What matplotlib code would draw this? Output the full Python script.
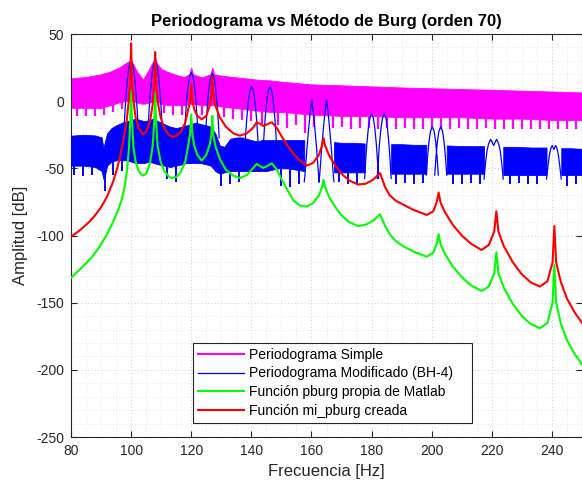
import numpy as np
import matplotlib
matplotlib.use('Agg')
import matplotlib.pyplot as plt
from matplotlib.lines import Line2D
from matplotlib.ticker import MultipleLocator

plt.rcParams['font.family'] = ['Liberation Sans', 'DejaVu Sans']
plt.rcParams['axes.unicode_minus'] = False

# ---------------- data ----------------
# Periodograma simple: envelope of the dense oscillation (upper / lower)
simple_f = [80, 85, 90, 93, 96, 98, 99.4, 100, 100.6, 102, 104, 106, 107.4, 108, 108.6,
            110, 112, 115, 117.5, 119.4, 120, 120.6, 123.5, 126.4, 127, 127.6, 130, 134,
            138, 142, 146, 150, 160, 170, 180, 190, 200, 210, 220, 230, 240, 250]
simple_hi = [17, 18, 20, 22, 25, 28, 30, 31, 28, 22, 16, 24, 30, 32, 28,
             24, 22, 19.5, 18, 20, 25, 20, 17.7, 20, 25, 20, 19, 18,
             17, 16, 15.5, 14.5, 12.5, 11.8, 11, 10.2, 9.6, 9, 8.5, 7.8, 7.2, 6.5]
simple_lo = [-5, -5, -5, -3, -1, 0, 0, 0, 0, -1, -2, -1, 0, 0, 0,
             -2, -3, -3, -3, -2, -2, -2, -3, -3, -3, -3, -4, -5,
             -6, -7, -8, -8, -10, -11, -11, -12, -12, -12, -13, -13, -14, -14]
# downward teeth along the lower edge of the simple periodogram
simple_notch_f = [82, 85, 88, 91, 94, 97, 111, 114, 117, 123.5, 131, 134, 137, 140, 143.5,
                  149, 152, 155, 158, 161, 167, 170, 173, 176, 179, 182, 185, 188, 191, 194,
                  197, 200, 203, 206, 209, 212, 215, 218, 221, 224, 227, 230, 233, 236, 239,
                  242, 245, 248]
simple_notch_db = [-11, -11, -11, -10, -8, -6, -9, -10, -10, -10, -12, -13, -14, -15, -17,
                   -18, -20, -18, -24, -19, -20, -19, -21, -20, -20, -21, -20, -21, -20, -21,
                   -21, -20, -21, -21, -20, -21, -21, -20, -21, -21, -21, -21, -21, -21, -21,
                   -21, -21, -21]

# Periodograma modificado (BH-4): side-lobe band (NaN = gap) and main-lobe arches
mod_band_f = [80, 84, 88, 90.2, 90.8, 91.3, 92, 93.5, 95, 97, 98.5, 100, 101.5, 103, 104.5,
              106, 107.5, 109, 111, 113, 115, 117, 118.5, 120, 121.5, 123, 125, 126.5, 128,
              129.5, 131, 133, 135, 137, 138.5, 140, 142, 143.5, 145, 147, 149, 152, 155, 157.6,
              np.nan, 167.5, 170, 174, 177.7,
              np.nan, 186.5, 190, 194, 198.2,
              np.nan, 205.0, 210, 214, 217.4,
              np.nan, 223.8, 228, 233, 238.2,
              np.nan, 243.1, 246, 250]
mod_band_hi = [-25.7, -25, -25.5, -27, -35, -30, -24, -20, -18, -16, -15, -14, -13, -14, -15,
               -14, -13, -15, -17, -19, -20, -19, -18, -17, -16, -17, -18, -19, -24,
               -33, -34, -28, -27, -27, -28, -29, -30, -29, -29, -29, -29, -29, -29, -29,
               np.nan, -30.5, -31, -31, -31.5,
               np.nan, -32, -32, -32.5, -32.5,
               np.nan, -33, -33.4, -33.5, -33.5,
               np.nan, -34, -34, -34.5, -34.5,
               np.nan, -35, -35, -35.5]
mod_band_lo = [-48, -48, -49, -52, -58, -55, -48, -45, -44, -44, -44, -45, -46, -46, -46,
               -45, -46, -47, -48, -49, -48, -47, -46, -46, -46, -46, -47, -48, -52,
               -54, -53, -52, -52, -52, -52, -52, -52, -52, -52, -51, -50, -50, -51, -52,
               np.nan, -53, -53, -53, -53,
               np.nan, -54, -54, -54, -54,
               np.nan, -54, -54, -54, -54,
               np.nan, -55, -55, -55, -55,
               np.nan, -55, -55, -55]
mod_notch_f = [81, 84, 87, 91.2, 94, 97, 112, 115, 130, 133, 136, 150, 153, 156, 169, 172,
               175, 188, 191, 194, 197, 207, 210, 213, 216, 226, 229, 232, 235, 245, 248]
mod_notch_db = [-55, -56, -55, -67, -55, -52, -58, -60, -63, -62, -60, -63, -64, -62, -60,
                -62, -61, -62, -61, -62, -61, -62, -62, -61, -62, -62, -61, -62, -62, -63, -62]
mod_arch_f = [97.7, 98.0, 98.4, 98.9, 99.4, 100.0, 100.6, 101.1, 101.6, 102.0, 102.3, np.nan,
              105.7, 106.0, 106.4, 106.9, 107.4, 108.0, 108.6, 109.1, 109.6, 110.0, 110.3, np.nan,
              117.7, 118.0, 118.4, 118.9, 119.4, 120.0, 120.6, 121.1, 121.6, 122.0, 122.3, np.nan,
              124.7, 125.0, 125.4, 125.9, 126.4, 127.0, 127.6, 128.1, 128.6, 129.0, 129.3, np.nan,
              137.8, 138.1, 138.5, 139.0, 139.5, 140.1, 140.7, 141.2, 141.7, 142.1, 142.4, np.nan,
              143.9, 144.2, 144.6, 145.1, 145.6, 146.2, 146.8, 147.3, 147.8, 148.2, 148.5, np.nan,
              157.6, 157.8, 158.1, 158.5, 159.0, 159.5, 160.1, 160.7, 161.2, 161.7, 162.1, 162.4, 162.6, np.nan,
              162.5, 162.7, 163.0, 163.4, 163.9, 164.4, 165.0, 165.6, 166.1, 166.6, 167.0, 167.3, 167.5, np.nan,
              177.7, 178.0, 178.4, 178.9, 179.4, 180.0, 180.6, 181.1, 181.6, 182.0, 182.3, np.nan,
              181.9, 182.2, 182.6, 183.1, 183.6, 184.2, 184.8, 185.3, 185.8, 186.2, 186.5, np.nan,
              198.2, 198.6, 199.1, 199.6, 200.2, 200.8, 201.3, 201.8, 202.2, np.nan,
              201.0, 201.4, 201.9, 202.4, 203.0, 203.6, 204.1, 204.6, 205.0, np.nan,
              217.4, 217.9, 218.4, 218.9, 219.6, 220.1, 220.6, 221.1, 221.6, 222.3, 222.8, 223.3, 223.8, np.nan,
              238.2, 238.7, 239.2, 239.7, 240.1, 240.65, 241.2, 241.6, 242.1, 242.6, 243.1]
mod_arch_db = [-18, -6, 7, 19, 26.7, 30, 26.7, 19, 7, -6, -18, np.nan,
               -18, -6, 7, 19, 26.7, 30, 26.7, 19, 7, -6, -18, np.nan,
               -26.5, -14.5, -1.5, 10.5, 18.2, 21.5, 18.2, 10.5, -1.5, -14.5, -26.5, np.nan,
               -27.3, -15.3, -2.3, 9.7, 17.4, 20.7, 17.4, 9.7, -2.3, -15.3, -27.3, np.nan,
               -37.2, -25.2, -12.2, -0.2, 7.5, 10.8, 7.5, -0.2, -12.2, -25.2, -37.2, np.nan,
               -37.2, -25.2, -12.2, -0.2, 7.5, 10.8, 7.5, -0.2, -12.2, -25.2, -37.2, np.nan,
               -60, -56.1, -47, -35, -22, -10, 0.9, -10, -22, -35, -47, -56.1, -60, np.nan,
               -60, -56.1, -47, -35, -22, -10, 0.9, -10, -22, -35, -47, -56.1, -60, np.nan,
               -57.5, -45.5, -32.5, -20.5, -12.8, -9.5, -12.8, -20.5, -32.5, -45.5, -57.5, np.nan,
               -57.5, -45.5, -32.5, -20.5, -12.8, -9.5, -12.8, -20.5, -32.5, -45.5, -57.5, np.nan,
               -55, -42, -30, -22.3, -19, -22.3, -30, -42, -55, np.nan,
               -55, -42, -30, -22.3, -19, -22.3, -30, -42, -55, np.nan,
               -58, -46, -37, -31.9, -28.4, -30.5, -33, -30.5, -28.4, -31.9, -37, -46, -58, np.nan,
               -58, -48, -39.5, -34.5, -33, -36, -33, -34.5, -39.5, -48, -58]

# Función pburg propia de Matlab
pburg_f = [80, 84, 87, 89.6, 92, 94, 95.5, 96.8, 97.8, 98.6, 99.3, 99.7, 100, 100.3, 100.8,
           101.5, 102.5, 103.8, 105, 106.3, 107.2, 107.7, 108, 108.3, 108.8, 109.8, 111, 112.5,
           113.5, 115, 116.5, 118, 119, 119.6, 120, 120.4, 121, 122, 123.5, 125, 126.2, 126.7,
           127, 127.3, 128, 129.5, 131.5, 134, 136.2, 138.5, 140.5, 141.8, 143, 144, 145.5,
           146.8, 148.5, 150, 152, 154, 156, 158.4, 160.5, 162.5, 163.5, 164, 164.5, 166, 168,
           170, 172.5, 175.5, 178, 180.5, 182.8, 184.5, 186, 188, 190.5, 194, 198.3, 200.5,
           201.7, 202.3, 203, 204.5, 207, 210, 213, 216.6, 219, 220.8, 221.5, 222.2, 224, 227,
           230, 233, 236, 238.5, 240.2, 240.8, 241.4, 243, 245, 247.5, 250]
pburg_db = [-131.6, -123, -116, -108, -99, -90, -82, -74, -64, -52, -35, -15, 8, -15, -35,
            -45, -52, -55.4, -54, -46, -33, -15, 6, -15, -33, -45, -52, -56,
            -57.2, -56.5, -53, -45, -33, -25, -10, -25, -33, -40, -44.3, -40, -32, -25,
            -11, -25, -33, -43, -51, -55.5, -57.2, -55, -50, -46.8, -48.5, -49.7, -48,
            -46.3, -51, -58, -66, -74, -77.5, -78.5, -76, -70, -64, -58.7, -64, -72, -79,
            -85, -90, -93, -92, -89, -84.2, -93, -99, -104, -108, -112, -115.8, -113,
            -106, -99, -107, -114, -123, -131, -137, -141.3, -138, -128, -112.5, -128, -139, -151,
            -160, -166, -169, -165, -150, -122, -150, -166, -178, -188, -196]

# Función mi_pburg creada
mipburg_f = [80, 83, 86, 88, 90, 92, 94, 95.5, 96.6, 97.6, 98.5, 99.2, 99.7, 100, 100.3, 100.8,
             101.5, 102.5, 103.8, 105, 106.3, 107.2, 107.7, 108, 108.3, 108.8, 109.8, 111,
             112.5, 113.5, 115, 116.5, 118, 119, 119.6, 120, 120.4, 121, 122, 123.5, 125,
             126.2, 126.7, 127, 127.3, 128, 129.5, 131.5, 134, 136.2, 138.5, 140.5, 141.8,
             143, 144, 145.5, 146.8, 148.5, 150, 152, 154, 156, 158.4, 160.5, 162.5, 163.5,
             164, 164.5, 166, 168, 170, 172.5, 175.5, 178, 180.5, 182.8, 184.5, 186, 188,
             190.5, 194, 198.4, 200.5, 201.7, 202.3, 203, 204.5, 207, 210, 213, 216.6, 219,
             220.8, 221.5, 222.2, 224, 227, 230, 233, 236, 238.5, 240.2, 240.8, 241.4, 243,
             245, 247.5, 250]
mipburg_db = [-101, -96, -90, -85, -79, -71, -60, -49, -38, -27, -15, 0, 15, 43, 15, 0,
              -12, -20, -24.5, -23, -15, -2, 15, 36.5, 15, 0, -12, -20,
              -25, -26.4, -26, -23, -16, -6, 0, 13, 0, -6, -11, -13.5, -11,
              -3, 5, 18, 5, -3, -12, -19, -24, -25.7, -24, -20, -15.7,
              -17, -18.5, -17, -15.7, -20, -26, -33, -39, -44, -48, -46, -40, -33,
              -27.5, -33, -41, -48, -54, -59, -62, -61.5, -58.5, -53.5, -64, -70, -74,
              -77, -81, -84.7, -82, -75, -68, -76, -83, -92, -100, -106, -110.8, -107,
              -97, -82, -97, -108, -120, -129, -135, -138, -134, -120, -93, -120, -135,
              -147, -157, -165]

x_ticks = [80, 100, 120, 140, 160, 180, 200, 220, 240]
y_ticks = [-250, -200, -150, -100, -50, 0, 50]
labels = ['Periodograma Simple', 'Periodograma Modificado (BH-4)',
          'Función pburg propia de Matlab', 'Función mi_pburg creada']

# ---------------- plotting ----------------
MAG, BLU, GRN, RED = '#FF00FF', '#0000FF', '#00FF00', '#FF0000'
TXT = '#262626'


def segments(f, a, b):
    f = np.asarray(f, float)
    a = np.asarray(a, float)
    b = np.asarray(b, float)
    idx = np.where(np.isnan(f))[0]
    starts = np.r_[0, idx + 1]
    ends = np.r_[idx, len(f)]
    for s, e in zip(starts, ends):
        yield f[s:e], a[s:e], b[s:e]


fig = plt.figure(figsize=(5.82, 4.86), dpi=100)
ax = fig.add_axes([71 / 582, 49 / 486, 511 / 582, 403 / 486])

ax.fill_between(simple_f, simple_lo, simple_hi, color=MAG, lw=0.6, edgecolor=MAG, zorder=2)
ax.vlines(simple_notch_f, simple_notch_db, 0, color=MAG, lw=1.6, zorder=2)
for f, hi, lo in segments(mod_band_f, mod_band_hi, mod_band_lo):
    ax.fill_between(f, lo, hi, color=BLU, lw=0.6, edgecolor=BLU, zorder=3)
ax.vlines(mod_notch_f, mod_notch_db, -40, color=BLU, lw=1.4, zorder=3)
ax.plot(mod_arch_f, mod_arch_db, color=BLU, lw=0.9, zorder=3)
ax.plot(pburg_f, pburg_db, color=GRN, lw=1.5, zorder=4)
ax.plot(mipburg_f, mipburg_db, color=RED, lw=1.5, zorder=5)

ax.set_xlim(80, 250)
ax.set_ylim(-250, 50)
ax.set_xticks(x_ticks)
ax.set_yticks(y_ticks)
ax.xaxis.set_minor_locator(MultipleLocator(5))
ax.yaxis.set_minor_locator(MultipleLocator(10))
ax.grid(True, which='major', color='#c0c0c0', linestyle=(0, (1, 3)), lw=0.6)
ax.grid(True, which='minor', color='#d0d0d0', linestyle=(0, (1, 3)), lw=0.5)
ax.set_axisbelow(True)
ax.tick_params(which='major', direction='in', length=4, width=0.8, top=True, right=True,
               labelsize=10, colors=TXT, pad=5)
ax.tick_params(which='minor', length=0, top=True, right=True)
for s in ax.spines.values():
    s.set_color(TXT)
    s.set_linewidth(0.8)

ax.set_xlabel('Frecuencia [Hz]', fontsize=12, color=TXT, labelpad=4)
ax.set_ylabel('Amplitud [dB]', fontsize=12, color=TXT, labelpad=6)
ax.set_title('Periodograma vs Método de Burg (orden 70)', fontsize=12, fontweight='bold',
             color='black', pad=6)

handles = [Line2D([], [], color=MAG, lw=1.5), Line2D([], [], color=BLU, lw=0.9),
           Line2D([], [], color=GRN, lw=1.5), Line2D([], [], color=RED, lw=1.5)]
leg = ax.legend(handles, labels, loc='lower left',
                bbox_to_anchor=(0.2387, 0.0347, 0.546, 0.2), mode='expand',
                borderaxespad=0, fontsize=10, fancybox=False, framealpha=1,
                edgecolor=TXT, handlelength=3.3, handletextpad=0.4, labelspacing=0.35,
                borderpad=0.35)
leg.get_frame().set_linewidth(0.8)

fig.savefig('out.png', dpi=100)
